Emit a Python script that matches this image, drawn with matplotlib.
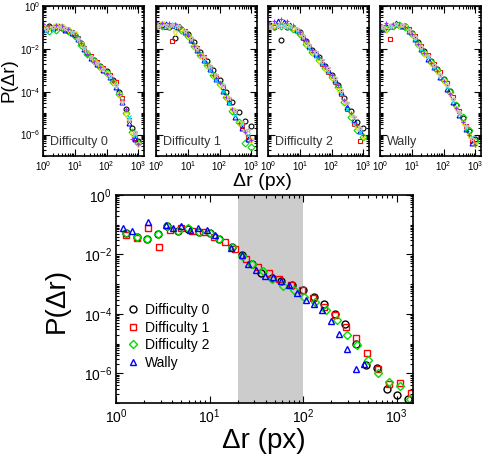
import numpy as np
import matplotlib
matplotlib.use("Agg")
import matplotlib.pyplot as plt
from matplotlib import ticker

plt.rcParams['font.family'] = ['Liberation Sans', 'DejaVu Sans']

# ---- top panels: r grids (px) and log10 P per series ----
r_grid_a = [1, 1.6, 2.5, 4, 6.3, 10, 16, 25, 40, 63, 100, 160, 250, 400, 630, 1000]
r_grid_b = [1.26, 2, 3.2, 5, 7.9, 12.6, 20, 32, 50, 79, 126, 200, 316, 500, 790]

# order: black, red, green, blue, yellow, cyan, purple, gray
diff0_logp = [
    [-1.05, -0.95, -1.0, -1.02, -1.1, -1.33, -1.72, -2.18, -2.52, -2.8, -3.05, -3.45, -4.0, -4.8, -5.7, -6.3],
    [-1.0, -1.05, -1.0, -1.05, -1.2, -1.5, -1.95, -2.35, -2.62, -2.9, -3.22, -3.55, -4.3, -5.3, -6.15],
    [-0.95, -1.15, -1.1, -0.98, -1.15, -1.38, -1.8, -2.25, -2.55, -2.85, -3.12, -3.55, -4.1, -5.0, -5.9, -6.4],
    [-1.05, -1.0, -0.95, -1.1, -1.25, -1.55, -2.0, -2.42, -2.7, -2.98, -3.3, -3.8, -4.5, -5.45, -6.2],
    [-1.0, -1.05, -0.95, -1.0, -1.1, -1.3, -1.75, -2.2, -2.6, -2.9, -3.15, -3.6, -4.15, -5.1, -6.0, -6.5],
    [-1.15, -1.1, -1.0, -1.05, -1.2, -1.5, -1.95, -2.4, -2.65, -2.95, -3.3, -3.75, -4.4, -5.2, -6.0],
    [-0.85, -0.88, -0.9, -0.92, -1.08, -1.35, -1.72, -2.22, -2.6, -2.85, -3.15, -3.5, -4.1, -4.8, -6.2, -6.45],
    [-1.05, -1.0, -1.0, -1.02, -1.2, -1.52, -1.98, -2.38, -2.65, -2.92, -3.25, -3.7, -4.5, -5.3, -5.9],
]
diff1_logp = [
    [-0.95, -0.9, -1.0, -1.5, -1.05, -1.3, -1.7, -2.15, -2.55, -3.0, -3.45, -4.0, -4.5, -4.95, -5.35, -5.6],
    [-0.95, -1.0, -1.65, -0.95, -1.15, -1.52, -1.95, -2.4, -2.85, -3.3, -3.8, -4.4, -4.95, -5.6, -6.1],
    [-0.9, -0.95, -0.92, -0.95, -1.1, -1.4, -1.85, -2.3, -2.75, -3.2, -3.65, -4.25, -4.9, -5.4, -6.4, -6.6],
    [-0.9, -0.85, -0.9, -0.98, -1.2, -1.6, -2.05, -2.5, -2.95, -3.42, -3.95, -4.5, -5.2, -5.7, -6.2],
    [-0.95, -0.85, -1.0, -1.25, -1.1, -1.45, -1.9, -2.35, -2.85, -3.25, -3.75, -4.3, -4.85, -5.5, -5.9, -6.3],
    [-0.95, -0.92, -0.9, -0.95, -1.2, -1.6, -2.05, -2.55, -3.0, -3.45, -3.95, -4.55, -5.1, -5.5, -6.0],
    [-0.75, -0.78, -0.8, -0.85, -1.0, -1.35, -1.85, -2.3, -2.75, -3.2, -3.6, -4.25, -4.8, -5.45, -5.9, -6.25],
    [-0.92, -0.9, -0.88, -0.95, -1.15, -1.5, -1.95, -2.4, -2.8, -3.2, -3.7, -4.3, -4.85, -5.4, -5.8],
]
diff2_logp = [
    [-0.95, -0.98, -1.6, -1.0, -1.02, -1.22, -1.65, -2.05, -2.4, -2.8, -3.2, -3.7, -4.3, -4.9, -5.4, -5.7],
    [-0.95, -0.95, -0.9, -1.0, -1.1, -1.5, -1.92, -2.3, -2.7, -3.1, -3.55, -4.1, -4.8, -5.5, -6.3],
    [-0.9, -0.95, -0.95, -0.92, -1.05, -1.3, -1.75, -2.15, -2.5, -2.9, -3.3, -3.8, -4.5, -5.2, -5.8, -6.1],
    [-0.9, -0.7, -0.75, -0.9, -1.1, -1.45, -1.88, -2.25, -2.6, -3.0, -3.45, -4.0, -4.7, -5.3, -5.85],
    [-1.0, -0.95, -0.9, -0.95, -1.05, -1.3, -1.8, -2.2, -2.6, -3.0, -3.4, -3.9, -4.5, -5.1, -5.7, -6.1],
    [-1.0, -0.95, -0.95, -0.98, -1.15, -1.5, -1.95, -2.35, -2.7, -3.1, -3.55, -4.1, -4.8, -5.5, -5.9],
    [-0.75, -0.68, -0.62, -0.7, -0.9, -1.2, -1.6, -2.05, -2.4, -2.8, -3.2, -3.7, -4.4, -5.0, -5.55, -6.0],
    [-0.98, -0.95, -0.92, -0.95, -1.05, -1.4, -1.8, -2.15, -2.5, -2.9, -3.35, -3.9, -4.55, -5.2, -5.7],
]
wally_logp = [
    [-1.1, -1.0, -0.95, -0.9, -0.95, -1.25, -1.7, -2.1, -2.55, -2.95, -3.4, -3.95, -4.6, -5.25, -5.85, -6.2],
    [-1.0, -1.55, -0.9, -0.95, -1.05, -1.4, -1.85, -2.3, -2.7, -3.1, -3.6, -4.25, -4.9, -5.6, -6.3],
    [-1.05, -1.05, -0.92, -0.9, -1.0, -1.3, -1.75, -2.2, -2.6, -3.0, -3.45, -4.0, -4.6, -5.2, -5.8, -6.3],
    [-1.05, -0.95, -0.8, -0.95, -1.15, -1.55, -2.0, -2.45, -2.85, -3.3, -3.85, -4.5, -5.1, -5.75, -6.4],
    [-1.0, -1.1, -0.95, -0.92, -1.0, -1.35, -1.8, -2.25, -2.7, -3.1, -3.55, -4.15, -4.8, -5.45, -6.05, -6.5],
    [-1.0, -0.98, -0.88, -0.92, -1.15, -1.55, -2.0, -2.4, -2.85, -3.25, -3.8, -4.45, -5.05, -5.7, -6.1],
    [-0.85, -0.8, -0.85, -0.85, -1.0, -1.3, -1.75, -2.2, -2.65, -3.05, -3.5, -4.1, -4.75, -5.4, -6.0, -6.5],
    [-1.0, -0.95, -0.85, -0.9, -1.1, -1.45, -1.9, -2.35, -2.75, -3.2, -3.7, -4.35, -4.95, -5.6, -6.2],
]
top_titles = ['Difficulty 0', 'Difficulty 1', 'Difficulty 2', 'Wally']
top_data = [diff0_logp, diff1_logp, diff2_logp, wally_logp]
series_grid = ['a', 'b', 'a', 'b', 'a', 'b', 'a', 'b']
series_colors = ['black', 'red', '#00dd00', 'blue', '#e6e600', '#00e0e0', '#9933ff', '#c8b8b8']
series_markers = ['o', 's', 'D', '^', 'v', 'x', '+', '*']

# ---- bottom panel: averaged curves ----
d0_r = [1.28, 1.66, 2.13, 2.8, 3.5, 4.6, 5.9, 7.8, 10.1, 12.7, 17.3, 22.4, 28.8, 35.8, 47, 58, 77,
        100, 130, 167, 218, 284, 372, 474, 618, 790, 1010, 1320]
d0_p = [0.054, 0.040, 0.032, 0.048, 0.090, 0.061, 0.074, 0.058, 0.053, 0.034, 0.018, 0.0094, 0.0048,
        0.0024, 0.0016, 0.0013, 0.00093, 0.00063, 0.00036, 0.00021, 9.8e-5, 4.5e-5, 1.0e-5, 1.9e-6,
        1.5e-6, 2.9e-7, 1.85e-7, 1.4e-7]
d1_r = [1.28, 1.69, 2.2, 2.9, 3.8, 4.9, 6.5, 8.6, 11.2, 14.7, 18.7, 24.7, 33, 43, 56, 75, 98, 128,
        166, 218, 285, 372, 481, 633, 830, 1085, 1420]
d1_p = [0.045, 0.037, 0.079, 0.018, 0.066, 0.076, 0.061, 0.058, 0.040, 0.026, 0.015, 0.0068, 0.0039,
        0.0023, 0.0015, 0.00093, 0.00063, 0.00033, 0.00017, 9.1e-5, 3.7e-5, 1.5e-5, 5.0e-6, 1.35e-6,
        4.3e-7, 4.6e-7, 2.1e-7]
d2_r = [1.28, 1.66, 2.13, 2.8, 3.5, 4.6, 5.9, 7.8, 10.1, 12.7, 17.3, 22.4, 28.8, 37.3, 46.9, 61, 79.5,
        102.5, 133, 175, 230, 295, 377, 495, 634, 826, 1085, 1380]
d2_p = [0.054, 0.040, 0.032, 0.048, 0.093, 0.061, 0.076, 0.058, 0.054, 0.033, 0.018, 0.0092, 0.0047,
        0.0028, 0.0015, 0.00087, 0.00063, 0.00038, 0.00026, 0.000135, 6.2e-5, 1.94e-5, 8.9e-6, 2.8e-6,
        1.0e-6, 4.9e-7, 3.7e-7, 1.4e-7]
wally_r = [1.2, 1.47, 2.2, 3.4, 4.1, 5.0, 6.2, 7.6, 9.3, 11.5, 17, 22, 25.8, 31.7, 38.9, 47.7, 58.5,
           71, 87, 107, 131, 161, 198, 244, 298, 366, 450]
wally_p = [0.076, 0.061, 0.12, 0.098, 0.079, 0.093, 0.066, 0.079, 0.066, 0.045, 0.017, 0.0096, 0.0048,
           0.0030, 0.0019, 0.0017, 0.0013, 0.00093, 0.00049, 0.00029, 0.00021, 0.00013, 5.9e-5, 2.1e-5,
           6.4e-6, 1.4e-6, 2.0e-6]
band = (20, 100)


def style_log_axes(ax, labelsize, pad, ylabels=True):
    ax.set_xscale('log')
    ax.set_yscale('log')
    ax.set_xlim(1, 1500)
    ax.set_ylim(1e-7, 1)
    ax.xaxis.set_major_locator(ticker.FixedLocator([1, 10, 100, 1000]))
    ax.xaxis.set_major_formatter(ticker.LogFormatterSciNotation())
    ax.xaxis.set_minor_locator(ticker.LogLocator(base=10, subs=np.arange(1, 10), numticks=100))
    ax.xaxis.set_minor_formatter(ticker.NullFormatter())
    ax.yaxis.set_major_locator(ticker.FixedLocator([1, 1e-2, 1e-4, 1e-6]))
    ax.yaxis.set_major_formatter(ticker.LogFormatterSciNotation())
    ax.yaxis.set_minor_locator(ticker.LogLocator(base=10, subs=np.arange(1, 10), numticks=100))
    ax.yaxis.set_minor_formatter(ticker.NullFormatter())
    ax.tick_params(which='both', direction='in', top=True, right=True, labelsize=labelsize,
                   width=0.8, colors='black', pad=pad)
    ax.tick_params(which='major', length=5)
    ax.tick_params(which='minor', length=2.5)
    if not ylabels:
        ax.tick_params(axis='y', labelleft=False)
    for s in ax.spines.values():
        s.set_linewidth(1.2)


fig = plt.figure(figsize=(4.83, 4.58), dpi=100)

lefts = [43, 156, 268, 380]
for i, left in enumerate(lefts):
    ax = fig.add_axes([left / 483, (458 - 156) / 458, 101 / 483, 150 / 458])
    for k, logp in enumerate(top_data[i]):
        r = r_grid_a if series_grid[k] == 'a' else r_grid_b
        ax.plot(r, 10.0 ** np.array(logp), linestyle='none', marker=series_markers[k],
                markersize=3.5, markerfacecolor='none', markeredgecolor=series_colors[k],
                markeredgewidth=0.8)
    style_log_axes(ax, 7, 2, ylabels=(i == 0))
    ax.text(0.07, 0.09, top_titles[i], transform=ax.transAxes, fontsize=9, va='center',
            color='#333333')

fig.text(262 / 483, (458 - 181) / 458, 'Δr (px)', ha='center', va='center', fontsize=14)
fig.text(9 / 483, (458 - 80) / 458, 'P(Δr)', ha='center', va='center', fontsize=13.5, rotation=90)

axb = fig.add_axes([116 / 483, 55 / 458, 297 / 483, 208 / 458])
axb.axvspan(band[0], band[1], color='#cccccc', zorder=0, lw=0)
bottom_series = [
    (d0_r, d0_p, 'o', 'black', 'Difficulty 0'),
    (d1_r, d1_p, 's', 'red', 'Difficulty 1'),
    (d2_r, d2_p, 'D', '#00dd00', 'Difficulty 2'),
    (wally_r, wally_p, '^', 'blue', 'Wally'),
]
for r, p, m, c, lab in bottom_series:
    axb.plot(r, p, linestyle='none', marker=m, markersize=5 if m != 'D' else 4.3,
             markerfacecolor='none', markeredgecolor=c, markeredgewidth=1.0, label=lab)
style_log_axes(axb, 10, 3)
axb.legend(loc='center left', bbox_to_anchor=(0.0, 0.32), frameon=False, fontsize=10,
           handlelength=1.0, handletextpad=0.4, labelspacing=0.25, borderaxespad=0.3)

fig.text(264 / 483, (458 - 441) / 458, 'Δr (px)', ha='center', va='center', fontsize=20)
fig.text(57 / 483, (458 - 300) / 458, 'P(Δr)', ha='center', va='center', fontsize=20, rotation=90)

fig.savefig('out.png', dpi=100)
